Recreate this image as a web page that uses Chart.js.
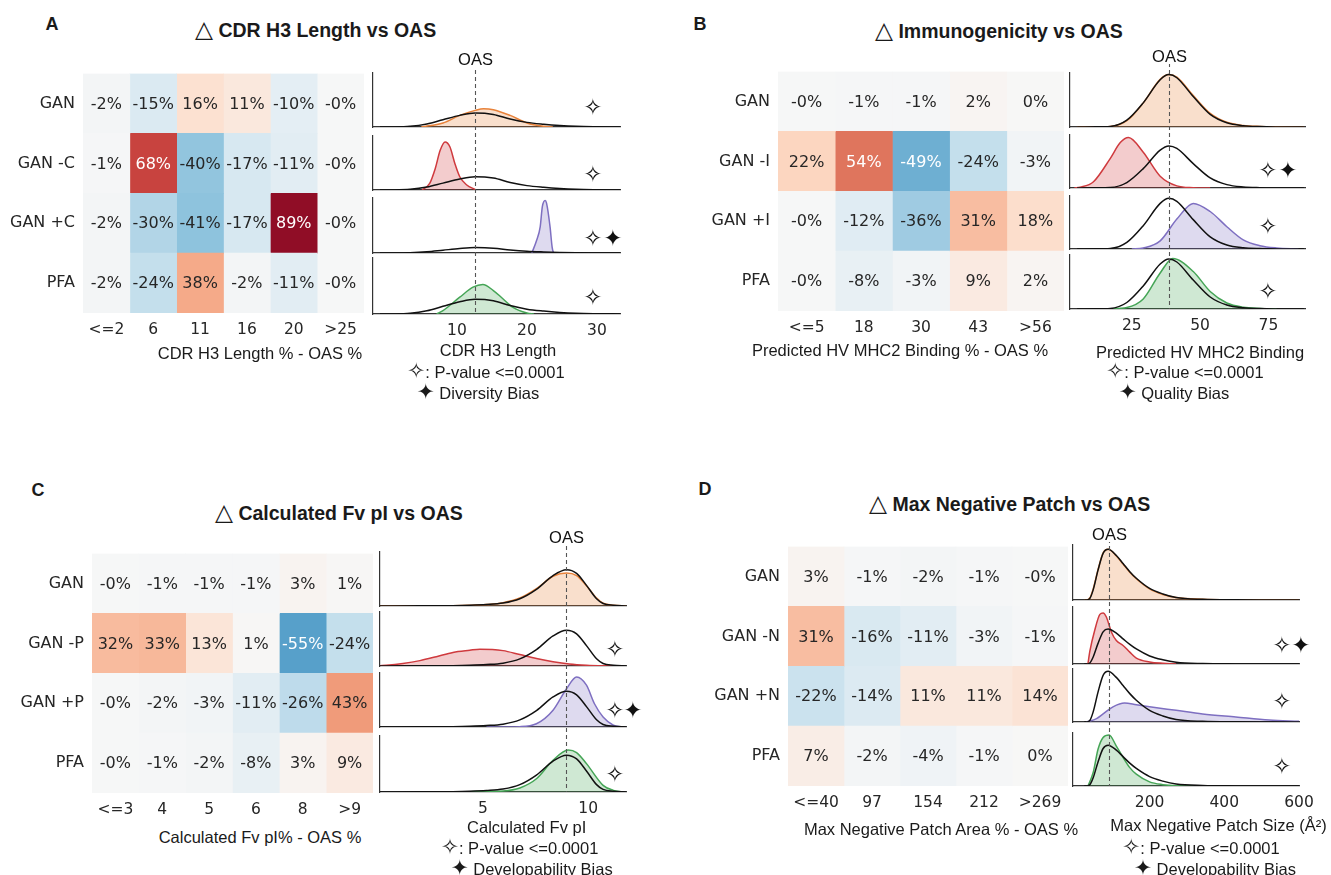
<!DOCTYPE html>
<html><head><meta charset="utf-8">
<script src="https://cdn.jsdelivr.net/npm/chart.js@4.4.1/dist/chart.umd.min.js"></script>
<style>
html,body{margin:0;padding:0;background:#fff;}
#root{position:relative;width:1331px;height:875px;overflow:hidden;background:#fff;}
#root canvas{position:absolute;}
.t{position:absolute;white-space:nowrap;line-height:1;color:#1a1a1a;}
</style></head><body><div id="root"></div>
<script>
// ---------------- DATA ----------------
// Panel A : CDR H3 Length
const hmRowsA = ['GAN', 'GAN -C', 'GAN +C', 'PFA'];
const hmColsA = ['<=2', '6', '11', '16', '20', '>25'];
const hmA_GAN   = [-2, -15, 16, 11, -10, -0.3];
const hmA_GANmC = [-1, 68, -40, -17, -11, -0.3];
const hmA_GANpC = [-2, -30, -41, -17, 89, -0.3];
const hmA_PFA   = [-2, -24, 38, -2, -11, -0.3];
const dTicksA = [10, 20, 30];
const oasMarkA = 12.6;
const dOasA_x = [-1, 0.9, 3.3, 5.7, 8.0, 10.4, 12.6, 15.2, 17.6, 20, 22.4, 24.7, 27, 29.5, 33.3];
const dOasA_y = [0, 0.005, 0.05, 0.22, 0.52, 0.83, 1, 0.9, 0.57, 0.33, 0.2, 0.11, 0.05, 0.02, 0.005];
const dA_GAN_x = [4.9, 8, 10.4, 12.6, 13.8, 15.2, 17.6, 20, 22.4, 23.7];
const dA_GAN_y = [0, 0.29, 0.83, 1.19, 1.31, 1.24, 0.83, 0.29, 0.05, 0];
const dA_GANmC_x = [5, 6.1, 6.9, 7.6, 8.3, 9.0, 9.7, 10.4, 11.4, 12.6];
const dA_GANmC_y = [0, 0.5, 1.63, 3.0, 3.63, 3.25, 2.0, 1.0, 0.38, 0.05];
const dA_GANpC_x = [20.7, 21.4, 21.9, 22.2, 22.6, 22.8, 23.3, 23.6, 23.8, 24.0];
const dA_GANpC_y = [0, 2.4, 4.9, 8.6, 9.75, 9.25, 4.9, 1.1, 0.1, 0];
const dA_PFA_x = [7.1, 8, 10.4, 12.3, 13.7, 15.2, 16.6, 18, 20, 21];
const dA_PFA_y = [0, 0.23, 1.14, 1.82, 2.0, 1.59, 1.02, 0.45, 0.07, 0];

// Panel B : Immunogenicity
const hmRowsB = ['GAN', 'GAN -I', 'GAN +I', 'PFA'];
const hmColsB = ['<=5', '18', '30', '43', '>56'];
const hmB_GAN   = [-0.3, -1, -1, 2, 0.3];
const hmB_GANmI = [22, 54, -49, -24, -3];
const hmB_GANpI = [-0.3, -12, -36, 31, 18];
const hmB_PFA   = [-0.3, -8, -3, 9, 2];
const dTicksB = [25, 50, 75];
const oasMarkB = 38.6;
const dOasB_x = [5, 12, 17.1, 23.2, 29.2, 35.4, 38.6, 41.5, 47.5, 53.7, 59.8, 65.8, 71.9, 78, 88];
const dOasB_y = [0, 0.003, 0.01, 0.13, 0.46, 0.9, 1.0, 0.94, 0.58, 0.24, 0.08, 0.025, 0.008, 0.002, 0];
const dB_GAN_x = [5, 12, 17.1, 23.2, 29.2, 35.4, 38.6, 41.5, 47.5, 53.7, 59.8, 65.8, 71.9, 78, 88];
const dB_GAN_y = [0, 0.003, 0.01, 0.12, 0.46, 0.91, 1.0, 0.95, 0.6, 0.26, 0.09, 0.03, 0.01, 0.003, 0];
const dB_GANmI_x = [4, 6.1, 11, 17.1, 20.8, 23.8, 29.2, 35.4, 41.5, 47.5, 53.7];
const dB_GANmI_y = [0, 0.02, 0.15, 0.7, 1.08, 1.2, 0.85, 0.28, 0.05, 0.008, 0];
const dB_GANpI_x = [25, 29.2, 35.4, 41.5, 47.5, 53.7, 59.8, 65.8, 71.9, 78, 86];
const dB_GANpI_y = [0, 0.02, 0.16, 0.59, 0.9, 0.74, 0.44, 0.18, 0.065, 0.02, 0];
const dB_PFA_x = [12, 17.1, 23.2, 29.2, 35.4, 40, 47.5, 53.7, 59.8, 65.8, 71.9, 78];
const dB_PFA_y = [0, 0.005, 0.03, 0.2, 0.72, 1.01, 0.75, 0.35, 0.12, 0.035, 0.01, 0];

// Panel C : Calculated Fv pI
const hmRowsC = ['GAN', 'GAN -P', 'GAN +P', 'PFA'];
const hmColsC = ['<=3', '4', '5', '6', '8', '>9'];
const hmC_GAN   = [-0.3, -1, -1, -1, 3, 1];
const hmC_GANmP = [32, 33, 13, 1, -55, -24];
const hmC_GANpP = [-0.3, -2, -3, -11, -26, 43];
const hmC_PFA   = [-0.3, -1, -2, -8, 3, 9];
const dTicksC = [5, 10];
const oasMarkC = 8.97;
const dOasC_x = [0.1, 2.0, 3.57, 4.37, 5.16, 5.95, 6.75, 7.54, 8.33, 8.97, 9.45, 9.92, 10.4, 10.71, 11.2, 11.8];
const dOasC_y = [0, 0.005, 0.01, 0.02, 0.04, 0.08, 0.2, 0.46, 0.84, 1.0, 0.9, 0.57, 0.2, 0.07, 0.02, 0];
const dC_GAN_x = [0.1, 2.0, 3.57, 4.37, 5.16, 5.95, 6.75, 7.54, 8.33, 8.97, 9.45, 9.92, 10.4, 10.71, 11.2, 11.8];
const dC_GAN_y = [0, 0.005, 0.01, 0.02, 0.04, 0.09, 0.22, 0.48, 0.82, 0.91, 0.84, 0.56, 0.22, 0.08, 0.02, 0];
const dC_GANmP_x = [0.1, 0.4, 1.19, 2.0, 2.78, 3.57, 4.37, 4.85, 5.95, 6.75, 7.54, 8.33, 9.1, 9.92, 10.71, 11.5];
const dC_GANmP_y = [0.01, 0.02, 0.07, 0.15, 0.26, 0.38, 0.44, 0.47, 0.43, 0.32, 0.21, 0.12, 0.056, 0.02, 0.005, 0];
const dC_GANpP_x = [5.16, 6.75, 7.54, 8.33, 8.97, 9.45, 9.92, 10.3, 10.71, 11.2, 11.6];
const dC_GANpP_y = [0, 0.01, 0.09, 0.47, 1.07, 1.4, 1.17, 0.65, 0.28, 0.05, 0];
const dC_PFA_x = [3.57, 4.37, 5.16, 5.95, 6.75, 7.54, 8.33, 9.05, 9.45, 9.92, 10.71, 11.2, 11.6];
const dC_PFA_y = [0, 0.01, 0.02, 0.03, 0.11, 0.36, 0.86, 1.14, 1.07, 0.77, 0.18, 0.045, 0];

// Panel D : Max Negative Patch
const hmRowsD = ['GAN', 'GAN -N', 'GAN +N', 'PFA'];
const hmColsD = ['<=40', '97', '154', '212', '>269'];
const hmD_GAN   = [3, -1, -2, -1, -0.3];
const hmD_GANmN = [31, -16, -11, -3, -1];
const hmD_GANpN = [-22, -14, 11, 11, 14];
const hmD_PFA   = [7, -2, -4, -1, 0.3];
const dTicksD = [200, 400, 600];
const oasMarkD = 91.6;
const dOasD_x = [25, 31, 40, 49, 62, 75.6, 89, 111, 129, 147, 164.5, 200, 235.5, 271, 342, 431, 520, 600];
const dOasD_y = [0, 0, 0.03, 0.2, 0.59, 0.92, 1.0, 0.88, 0.72, 0.56, 0.43, 0.23, 0.12, 0.05, 0.013, 0.003, 0.001, 0];
const dD_GAN_x = [25, 31, 40, 49, 62, 75.6, 89, 111, 129, 147, 164.5, 200, 235.5, 271, 342, 431, 520, 600];
const dD_GAN_y = [0, 0, 0.04, 0.22, 0.6, 0.93, 1.0, 0.87, 0.71, 0.55, 0.42, 0.22, 0.11, 0.05, 0.015, 0.004, 0.001, 0];
const dD_GANmN_x = [35, 40, 53, 67, 75.6, 84, 98, 111, 129, 147, 164.5, 200, 235.5, 271];
const dD_GANmN_y = [0, 0.36, 0.96, 1.42, 1.46, 1.35, 0.91, 0.67, 0.53, 0.34, 0.17, 0.06, 0.02, 0];
const dD_GANpN_x = [31, 58, 75.6, 102, 133, 164.5, 200, 271, 342, 431, 520, 600];
const dD_GANpN_y = [0, 0.066, 0.16, 0.3, 0.375, 0.34, 0.3, 0.23, 0.16, 0.1, 0.04, 0.013];
const dD_PFA_x = [35, 49, 62, 75.6, 91.6, 111, 129, 147, 164.5, 200, 235.5, 271, 342];
const dD_PFA_y = [0, 0.33, 0.9, 1.19, 1.25, 0.98, 0.7, 0.45, 0.29, 0.1, 0.033, 0.008, 0];

// ---------------- STYLE / LAYOUT ----------------
const SANS = '"Liberation Sans", Arial, Helvetica, sans-serif';
const DEJ = '"DejaVu Sans", Verdana, sans-serif';
const SERIES_COLORS = ['#e8823a', '#cf3a3e', '#7e6fc1', '#45a556'];
Chart.defaults.font.family = DEJ;
Chart.defaults.color = '#262626';

const root = document.getElementById('root');
function txt(html, x, y, o) {
  o = o || {};
  const d = document.createElement('div');
  d.className = 't';
  d.innerHTML = html;
  d.style.left = x + 'px'; d.style.top = y + 'px';
  d.style.fontFamily = o.font || SANS;
  d.style.fontSize = (o.size || 16.5) + 'px';
  d.style.fontWeight = o.weight || 'normal';
  d.style.transform = o.align === 'left' ? 'translate(0,-50%)' : 'translate(-50%,-50%)';
  root.appendChild(d);
}
function mkCanvas(l, t, w, h) {
  const c = document.createElement('canvas');
  c.width = w; c.height = h;
  c.style.left = l + 'px'; c.style.top = t + 'px';
  c.style.width = w + 'px'; c.style.height = h + 'px';
  root.appendChild(c);
  return c;
}
const RDBU_R = [[5,48,97],[33,102,172],[67,147,195],[146,197,222],[209,229,240],[247,247,247],[253,219,199],[244,165,130],[214,96,77],[178,24,43],[103,0,31]];
function cmap(v) {
  let t = (v + 100) / 200; t = Math.max(0, Math.min(1, t));
  const s = t * 10, i = Math.min(9, Math.floor(s)), f = s - i;
  const a = RDBU_R[i], b = RDBU_R[i + 1];
  return a.map((c, k) => c + (b[k] - c) * f);
}
const rgbStr = c => 'rgb(' + c.map(Math.round).join(',') + ')';
function lum(c) {
  const l = c.map(x => { x /= 255; return x <= 0.03928 ? x / 12.92 : Math.pow((x + 0.055) / 1.055, 2.4); });
  return 0.2126 * l[0] + 0.7152 * l[1] + 0.0722 * l[2];
}
function fmt(v) { const r = Math.round(v); return (v < 0 && r === 0 ? '-0' : String(r)) + '%'; }
function alpha(hex, a) {
  const n = parseInt(hex.slice(1), 16);
  return `rgba(${n >> 16},${(n >> 8) & 255},${n & 255},${a})`;
}
const pts = (xs, ys) => xs.map((x, i) => ({ x: x, y: ys[i] }));

const cellTextPlugin = {
  id: 'cellText',
  afterDatasetsDraw(chart, args, o) {
    const ctx = chart.ctx; ctx.save();
    ctx.font = '16px ' + DEJ; ctx.textAlign = 'center'; ctx.textBaseline = 'middle';
    chart.data.datasets.forEach((ds, ci) => {
      chart.getDatasetMeta(ci).data.forEach((el, ri) => {
        const v = o.values[ri][ci];
        ctx.fillStyle = lum(cmap(v)) > 0.408 ? '#262626' : '#ffffff';
        const p = el.getCenterPoint();
        ctx.fillText(fmt(v), p.x, p.y + 1);
      });
    });
    ctx.restore();
  }
};

function heatmap(rect, rows, cols, values) {
  const yW = 95, xH = 34, padT = 12, padR = 4;
  const cl = rect.l - yW, ct = rect.t - padT;
  const w = rect.r - rect.l + yW + padR, h = rect.b - rect.t + padT + xH;
  const cv = mkCanvas(cl, ct, w, h);
  new Chart(cv, {
    type: 'bar',
    data: {
      labels: rows,
      datasets: cols.map((c, ci) => ({
        data: rows.map(() => 1),
        backgroundColor: rows.map((r, ri) => rgbStr(cmap(values[ri][ci]))),
        borderWidth: 0, categoryPercentage: 1, barPercentage: 1
      }))
    },
    options: {
      indexAxis: 'y', responsive: false, animation: false, events: [],
      layout: { padding: { top: padT, right: padR, left: 0, bottom: 0 } },
      plugins: { legend: { display: false }, tooltip: { enabled: false }, cellText: { values: values } },
      scales: {
        x: {
          type: 'linear', stacked: true, min: 0, max: cols.length,
          grid: { display: false, drawTicks: false }, border: { display: false },
          afterBuildTicks: s => { s.ticks = cols.map((_, i) => ({ value: i + 0.5 })); },
          ticks: { autoSkip: false, maxRotation: 0, padding: 8, color: '#262626', font: { family: DEJ, size: 15.5 },
                   callback: (v, i) => cols[i] },
          afterFit: s => { s.height = xH; }
        },
        y: {
          stacked: true, grid: { display: false, drawTicks: false }, border: { display: false },
          ticks: { padding: 8, color: '#262626', font: { family: DEJ, size: 16 } },
          afterFit: s => { s.width = yW; }
        }
      }
    },
    plugins: [cellTextPlugin]
  });
}

const densPlugin = {
  id: 'dens',
  afterDatasetsDraw(chart, args, o) {
    const ctx = chart.ctx, ca = chart.chartArea, xs = chart.scales.x;
    const px = Math.round(xs.getPixelForValue(o.oas)) + 0.5;
    ctx.save();
    const y0 = o.first ? ca.top - o.labelOff + 7 : 0;
    const y1 = o.last ? ca.bottom : chart.height;
    ctx.strokeStyle = '#555'; ctx.lineWidth = 1.1; ctx.setLineDash([4, 3]);
    ctx.lineDashOffset = o.pageTop + y0;
    ctx.beginPath(); ctx.moveTo(px, y0); ctx.lineTo(px, y1); ctx.stroke();
    ctx.setLineDash([]);
    ctx.fillStyle = '#111'; ctx.textAlign = 'center'; ctx.textBaseline = 'middle';
    if (o.first) { ctx.font = '16.5px ' + SANS; ctx.fillText('OAS', px, ca.top - o.labelOff); }
    ctx.font = '23px ' + DEJ;
    const sy = ca.top + o.fy * (ca.bottom - ca.top);
    if (o.hollow) ctx.fillText('\u2727', ca.right + o.hdx, sy);
    if (o.filled) ctx.fillText('\u2726', ca.right + o.fdx, sy);
    ctx.restore();
  }
};

function densityColumn(P) {
  P.rows.forEach(([t, b], i) => {
    const l = P.l, r = P.r;
    const first = i === 0, last = i === P.rows.length - 1;
    const ct = first ? t - 32 : Math.floor((P.rows[i - 1][1] + t) / 2);
    const cb = last ? b + 30 : Math.floor((b + P.rows[i + 1][0]) / 2);
    const cl = l - 12, cr = r + 45;
    const xH = last ? 30 : 0;
    const cv = mkCanvas(cl, ct, cr - cl, cb - ct);
    const col = SERIES_COLORS[i];
    new Chart(cv, {
      type: 'scatter',
      data: { datasets: [
        { data: pts(P.oasX, P.oasY), showLine: true, borderColor: '#111', borderWidth: 1.5,
          pointRadius: 0, fill: false, cubicInterpolationMode: 'monotone' },
        { data: pts(P.sx[i], P.sy[i]), showLine: true, borderColor: col, backgroundColor: alpha(col, 0.26),
          borderWidth: 1.5, pointRadius: 0, fill: 'origin', cubicInterpolationMode: 'monotone' }
      ] },
      options: {
        responsive: false, animation: false, events: [],
        layout: { padding: { left: l - cl, right: cr - r, top: t - ct, bottom: cb - b - xH } },
        plugins: {
          legend: { display: false }, tooltip: { enabled: false },
          dens: { oas: P.oas, first: first, last: last, labelOff: P.labelOff, pageTop: ct,
                  fy: P.fy[i], hollow: P.stars[i] > 0, filled: P.stars[i] > 1, hdx: P.hdx, fdx: P.fdx }
        },
        scales: {
          x: {
            type: 'linear', min: P.xr[0], max: P.xr[1],
            grid: { display: false, drawTicks: false }, border: { display: true, color: '#333', width: 1.2 },
            ticks: { display: last, padding: 8, color: '#262626', font: { family: DEJ, size: 15.5 }, autoSkip: false, maxRotation: 0 },
            afterBuildTicks: s => { s.ticks = P.ticks.map(v => ({ value: v })); },
            afterFit: s => { s.height = xH; }
          },
          y: {
            min: 0, max: P.ymax[i],
            grid: { display: false, drawTicks: false }, border: { display: true, color: '#333', width: 1.2 },
            ticks: { display: false },
            afterFit: s => { s.width = 0; }
          }
        }
      },
      plugins: [densPlugin]
    });
  });
}

const TRI = '<span style="font-family:DejaVu Sans;font-weight:normal;font-size:1.2em">\u25B3</span> ';
const HOL = '<span style="font-family:DejaVu Sans;font-size:1.3em;line-height:0.8">\u2727</span>';
const FIL = '<span style="font-family:DejaVu Sans;font-size:1.3em;line-height:0.8">\u2726</span>';

// ---------- Panel A ----------
txt('A', 52, 24, { weight: 'bold', size: 18 });
txt(TRI + 'CDR H3 Length vs OAS', 195, 30, { weight: 'bold', size: 19.5, align: 'left' });
heatmap({ l: 83, t: 68, r: 364, b: 313 }, hmRowsA, hmColsA, [hmA_GAN, hmA_GANmC, hmA_GANpC, hmA_PFA]);
densityColumn({
  l: 373, r: 620, rows: [[73, 127], [136, 190], [198, 253], [258, 314]], xr: [-2, 33.3],
  ticks: dTicksA, oas: oasMarkA, labelOff: 13, oasX: dOasA_x, oasY: dOasA_y,
  sx: [dA_GAN_x, dA_GANmC_x, dA_GANpC_x, dA_PFA_x], sy: [dA_GAN_y, dA_GANmC_y, dA_GANpC_y, dA_PFA_y],
  ymax: [3.86, 4.08, 10.2, 3.8], stars: [1, 1, 2, 1], fy: [0.67, 0.74, 0.76, 0.73], hdx: -27, fdx: -7
});
txt('CDR H3 Length % - OAS %', 260, 352.7);
txt('CDR H3 Length', 498, 350);
txt(HOL + ': P-value &lt;=0.0001', 486, 370.5);
txt(FIL + ' Diversity Bias', 478, 392);

// ---------- Panel B ----------
txt('B', 700, 24, { weight: 'bold', size: 18 });
txt(TRI + 'Immunogenicity vs OAS', 875, 31, { weight: 'bold', size: 19.5, align: 'left' });
heatmap({ l: 778, t: 66, r: 1064, b: 311 }, hmRowsB, hmColsB, [hmB_GAN, hmB_GANmI, hmB_GANpI, hmB_PFA]);
densityColumn({
  l: 1070, r: 1305, rows: [[73, 127], [135, 188], [196, 249], [255, 309]], xr: [2.4, 88.4],
  ticks: dTicksB, oas: oasMarkB, labelOff: 16, oasX: dOasB_x, oasY: dOasB_y,
  sx: [dB_GAN_x, dB_GANmI_x, dB_GANpI_x, dB_PFA_x], sy: [dB_GAN_y, dB_GANmI_y, dB_GANpI_y, dB_PFA_y],
  ymax: [1.03, 1.26, 1.046, 1.08], stars: [0, 2, 1, 1], fy: [0, 0.69, 0.6, 0.7], hdx: -37, fdx: -17
});
txt('Predicted HV MHC2 Binding % - OAS %', 900, 350);
txt('Predicted HV MHC2 Binding', 1200, 351.7);
txt(HOL + ': P-value &lt;=0.0001', 1185, 370.7);
txt(FIL + ' Quality Bias', 1174, 391.7);

// ---------- Panel C ----------
txt('C', 38, 490, { weight: 'bold', size: 18 });
txt(TRI + 'Calculated Fv pI vs OAS', 215, 513, { weight: 'bold', size: 19.5, align: 'left' });
heatmap({ l: 92, t: 548, r: 373, b: 793 }, hmRowsC, hmColsC, [hmC_GAN, hmC_GANmP, hmC_GANpP, hmC_PFA]);
densityColumn({
  l: 380, r: 626, rows: [[552, 606], [612, 666], [673, 727], [736, 792]], xr: [0.1, 11.8],
  ticks: dTicksC, oas: oasMarkC, labelOff: 14, oasX: dOasC_x, oasY: dOasC_y,
  sx: [dC_GAN_x, dC_GANmP_x, dC_GANpP_x, dC_PFA_x], sy: [dC_GAN_y, dC_GANmP_y, dC_GANpP_y, dC_PFA_y],
  ymax: [1.49, 1.51, 1.51, 1.52], stars: [0, 1, 2, 1], fy: [0, 0.72, 0.73, 0.72], hdx: -11, fdx: 7
});
txt('Calculated Fv pI% - OAS %', 260, 836.7);
txt('Calculated Fv pI', 526.7, 826.7);
txt(HOL + ': P-value &lt;=0.0001', 519.7, 846.7);
txt(FIL + ' Developability Bias', 531.7, 868.3);

// ---------- Panel D ----------
txt('D', 705, 489, { weight: 'bold', size: 18 });
txt(TRI + 'Max Negative Patch vs OAS', 869, 504, { weight: 'bold', size: 19.5, align: 'left' });
heatmap({ l: 788, t: 541, r: 1068, b: 786 }, hmRowsD, hmColsD, [hmD_GAN, hmD_GANmN, hmD_GANpN, hmD_PFA]);
densityColumn({
  l: 1073, r: 1299, rows: [[545, 600], [607, 664], [669, 722], [733, 786]], xr: [-5, 600],
  ticks: dTicksD, oas: oasMarkD, labelOff: 10, oasX: dOasD_x, oasY: dOasD_y,
  sx: [dD_GAN_x, dD_GANmN_x, dD_GANpN_x, dD_PFA_x], sy: [dD_GAN_y, dD_GANmN_y, dD_GANpN_y, dD_PFA_y],
  ymax: [1.086, 1.63, 1.046, 1.30], stars: [0, 2, 1, 1], fy: [0, 0.71, 0.64, 0.67], hdx: -17, fdx: 2
});
txt('Max Negative Patch Area % - OAS %', 941, 829.3);
txt('Max Negative Patch Size (\u00C5\u00B2)', 1218.5, 825);
txt(HOL + ': P-value &lt;=0.0001', 1201, 846.7);
txt(FIL + ' Developability Bias', 1215, 868.3);
</script></body></html>
